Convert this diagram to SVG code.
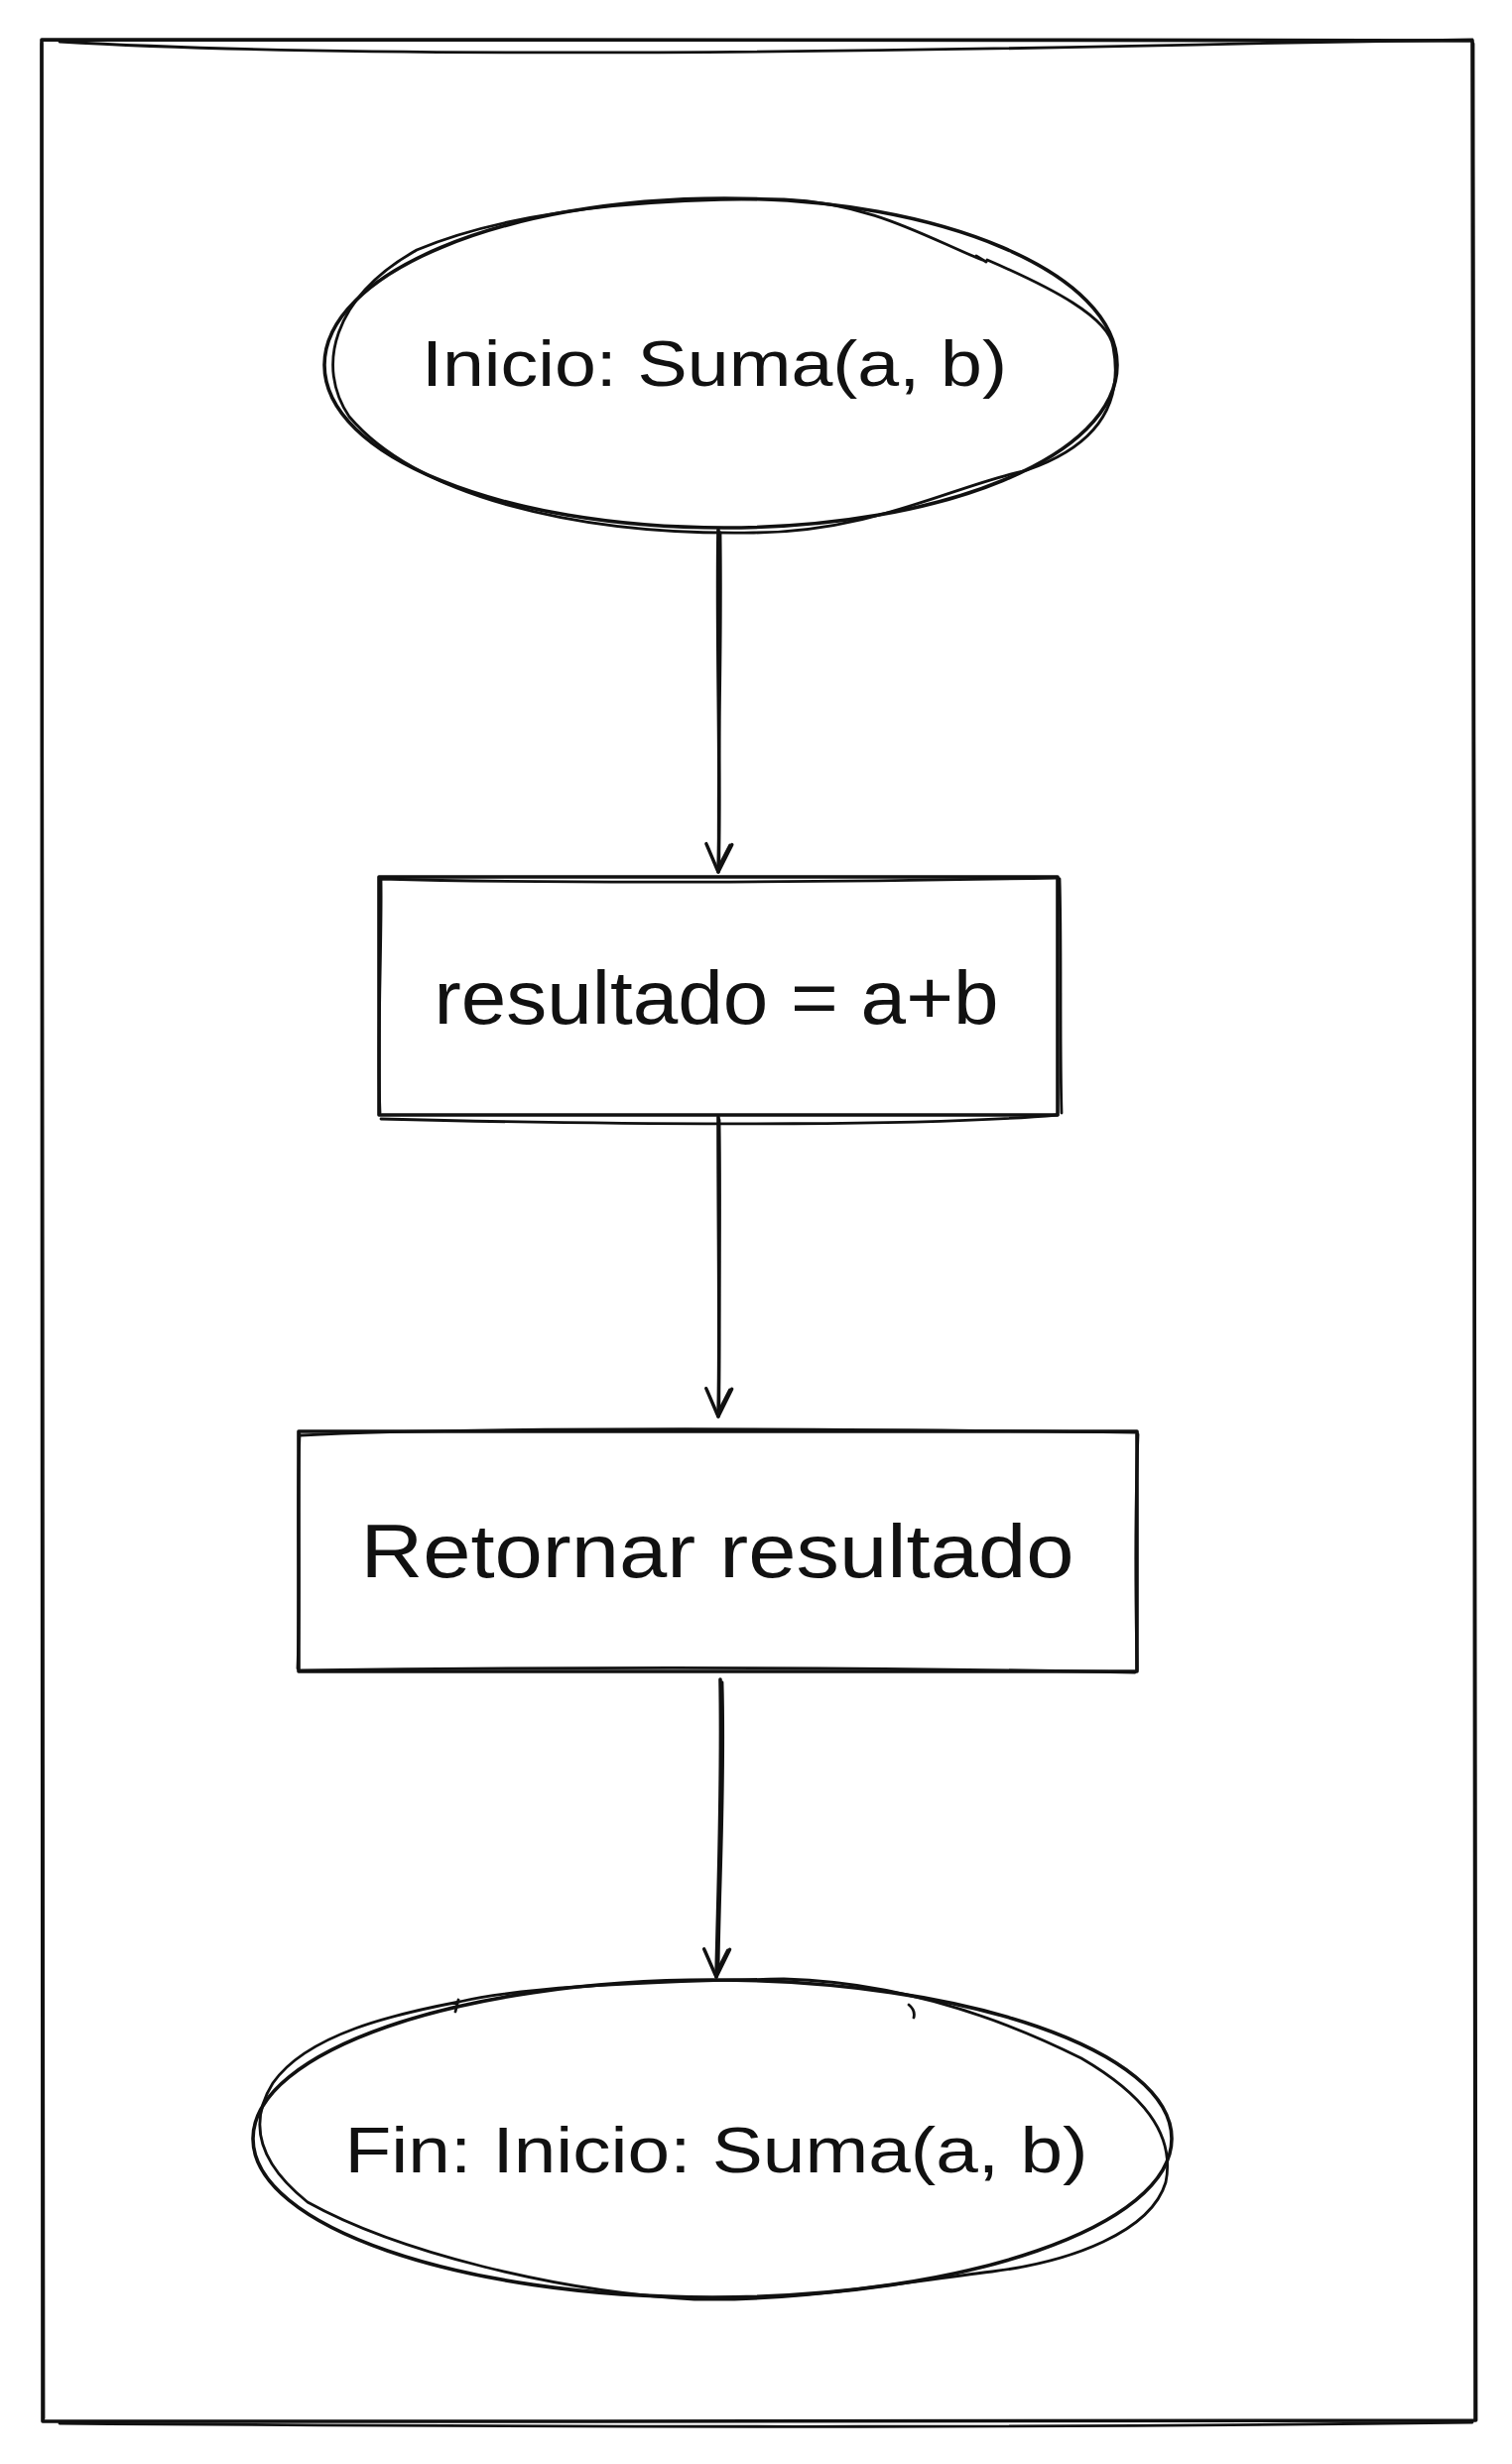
<svg xmlns="http://www.w3.org/2000/svg" width="1524" height="2484" viewBox="0 0 1524 2484">
<style>
.s{fill:none;stroke:#111111;stroke-width:3.6;stroke-linecap:round;stroke-linejoin:round}
.s2{fill:none;stroke:#111111;stroke-width:2.8;stroke-linecap:round;stroke-linejoin:round}
.t{font-family:"Liberation Sans",Arial,sans-serif;fill:#111111;text-anchor:middle}
</style>
<defs>
<marker id="ah" viewBox="-34 -18 38 36" markerWidth="38" markerHeight="36" refX="0" refY="0" orient="auto" markerUnits="userSpaceOnUse" overflow="visible">
<path d="M-28 -13 L0 0 L-28 13 M-27 -11 L-2 1 L-26 12" fill="none" stroke="#111111" stroke-width="3.4" stroke-linecap="round" stroke-linejoin="round"/>
</marker>
</defs>
<rect width="1524" height="2484" fill="#ffffff"/>
<g id="container">
<path class="s" d="M42 40 C500 40 1000 40 1484 41 L1486 1200 L1487 2440 L600 2441 L43 2441 Z"/>
<path class="s2" d="M60 42 C300 56 700 57 1300 43 L1484 40 M1485 44 C1488 800 1489 1600 1488 2440 M1484 2442 C1100 2447 700 2448 60 2443 M44 2438 C46 1600 44 800 42 44"/>
</g>
<g id="node-inicio">
<path class="s" d="M327 368 C327 276 506 200 730 200 C950 200 1126 276 1126 368 C1126 460 950 532 730 532 C506 532 327 460 327 368 Z"/>
<path class="s2" d="M995 262 C1060 290 1118 320 1122 350 C1135 420 1090 455 1035 474 C960 490 880 536 760 537 C580 540 420 500 352 420 C318 370 335 300 420 252 C520 210 660 200 790 201 C880 205 935 240 990 262 M984 258 L994 264"/>
<text class="t" x="720" y="389" font-size="64" textLength="590" lengthAdjust="spacingAndGlyphs">Inicio: Suma(a, b)</text>
</g>
<g id="node-resultado">
<path class="s" d="M382 884 L1066 884 L1066 1124 L382 1124 Z"/>
<path class="s2" d="M384 886 C600 892 900 888 1066 885 M1068 886 C1070 950 1068 1050 1070 1122 M1066 1124 C950 1134 700 1136 384 1128 M383 1122 C380 1050 385 950 384 887"/>
<text class="t" x="722" y="1032" font-size="76" textLength="569" lengthAdjust="spacingAndGlyphs">resultado = a+b</text>
</g>
<g id="node-retornar">
<path class="s" d="M301 1443 L1146 1443 L1146 1685 L301 1685 Z"/>
<path class="s2" d="M303 1447 C500 1437 900 1441 1144 1444 M1147 1446 C1143 1550 1145 1620 1146 1683 M1144 1686 C900 1681 600 1680 303 1684 M300 1682 C303 1600 299 1520 302 1446"/>
<text class="t" x="723" y="1590" font-size="76" textLength="719" lengthAdjust="spacingAndGlyphs">Retornar resultado</text>
</g>
<g id="node-fin">
<path class="s" d="M255 2156 C255 2068 462 1996 718 1996 C974 1996 1181 2068 1181 2156 C1181 2244 974 2316 718 2316 C462 2316 255 2244 255 2156 Z"/>
<path class="s2" d="M463 2018 C520 2005 620 1998 790 1995 C900 1998 1000 2030 1090 2075 C1150 2110 1185 2150 1175 2200 C1160 2250 1080 2280 1000 2290 C880 2305 800 2320 700 2318 C560 2310 400 2270 310 2220 C260 2180 250 2140 275 2100 C310 2050 400 2030 463 2018 M459 2028 L462 2016 M916 2021 C921 2025 922 2030 921 2034"/>
<text class="t" x="722" y="2190" font-size="64" textLength="749" lengthAdjust="spacingAndGlyphs">Fin: Inicio: Suma(a, b)</text>
</g>
<g id="connectors">
<path class="s" d="M724 534 C722 650 727 780 724 879" marker-end="url(#ah)"/>
<path class="s2" d="M726 537 C728 680 722 790 725 874"/>
<path class="s" d="M724 1126 C724 1250 726 1350 724 1428" marker-end="url(#ah)"/>
<path class="s2" d="M725 1129 C727 1260 723 1350 725 1424"/>
<path class="s" d="M726 1693 C728 1800 724 1900 722 1993" marker-end="url(#ah)"/>
<path class="s2" d="M728 1696 C731 1800 725 1900 724 1988"/>
</g>
</svg>
